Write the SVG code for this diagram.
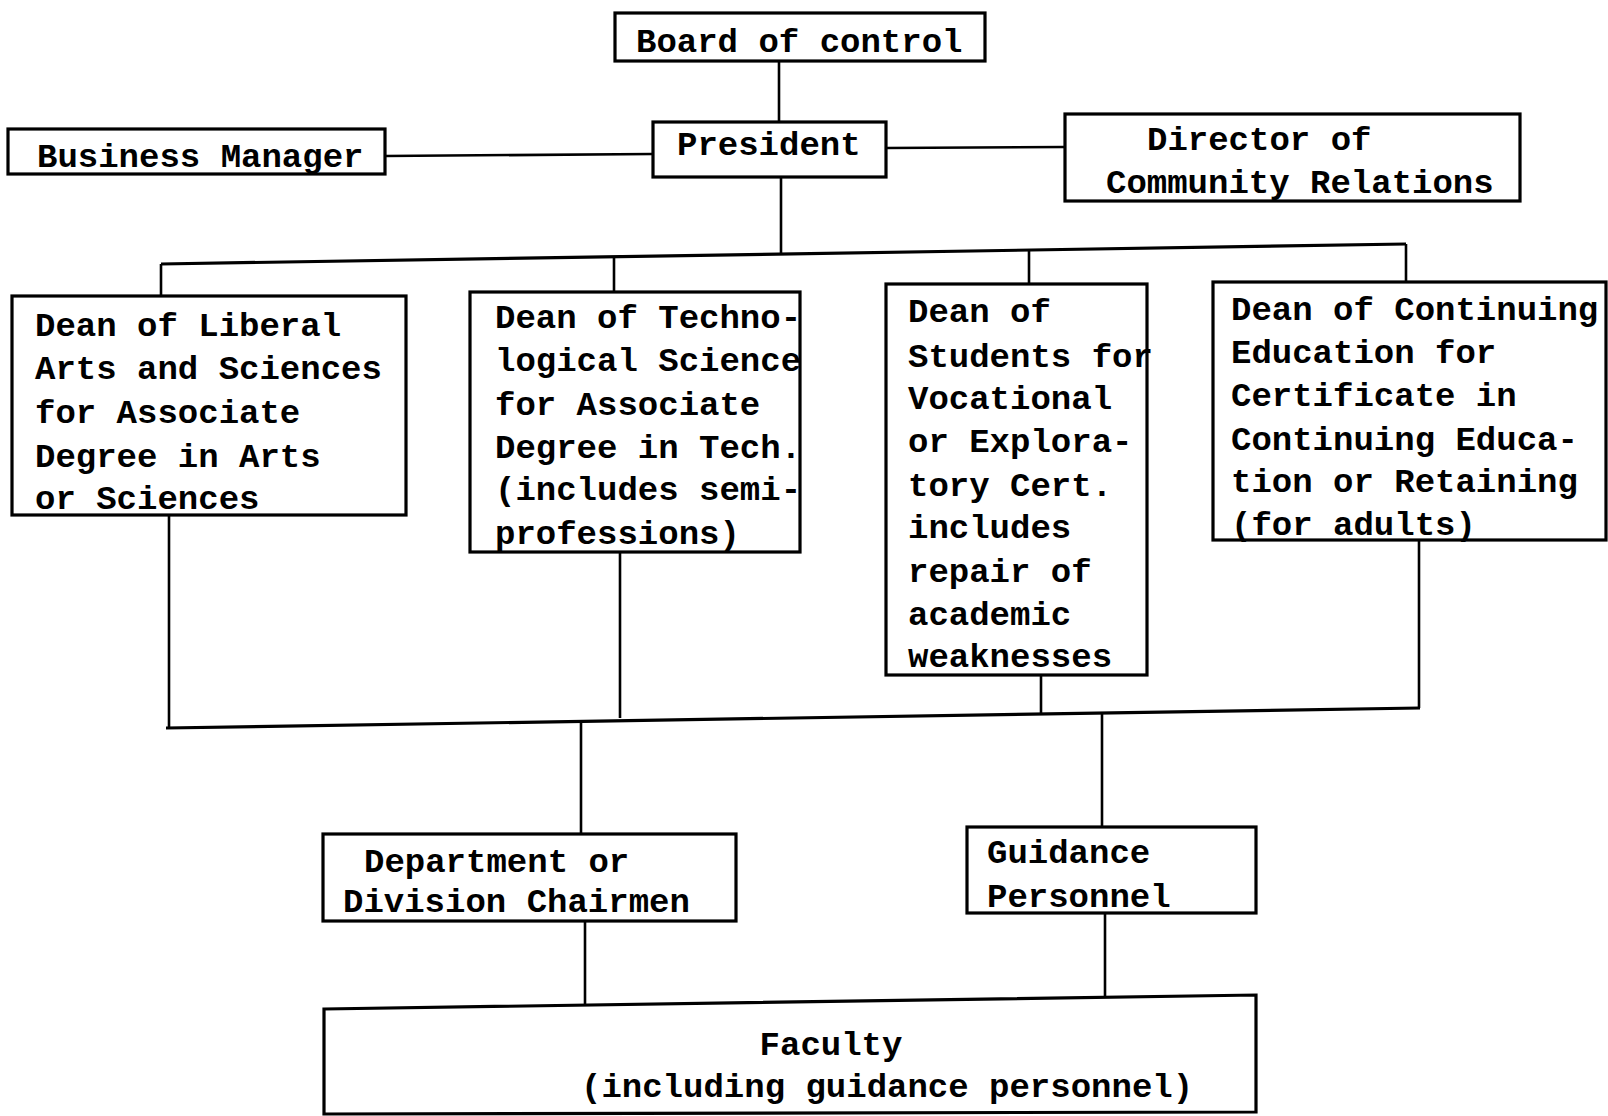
<svg xmlns="http://www.w3.org/2000/svg" width="1608" height="1116" viewBox="0 0 1608 1116">
<style>
.box{fill:#fff;stroke:#000;stroke-width:3.2}
.t{font-family:"Liberation Mono","DejaVu Sans Mono",monospace;font-size:34px;font-weight:bold;fill:#000}
.c{fill:none;stroke:#000;stroke-width:2.6}
</style>
<rect width="1608" height="1116" fill="#fff"/>
<g id="connectors">
<path class="c" d="M779 62V122"/>
<path class="c" d="M385 156L653 154"/>
<path class="c" d="M886 148L1065 147"/>
<path class="c" d="M781 177V253"/>
<path class="c" d="M161 264L1406 244" style="stroke-width:3.2"/>
<path class="c" d="M161 264V296"/>
<path class="c" d="M614 257V292"/>
<path class="c" d="M1029 250V284"/>
<path class="c" d="M1406 244V282"/>
<path class="c" d="M169 515V728"/>
<path class="c" d="M620 552V718"/>
<path class="c" d="M1041 675V713"/>
<path class="c" d="M1419 540V708"/>
<path class="c" d="M166 728L1420 708" style="stroke-width:3.2"/>
<path class="c" d="M581 722V834"/>
<path class="c" d="M1102 714V827"/>
<path class="c" d="M585 921V1007"/>
<path class="c" d="M1105 913V997"/>
</g>
<g id="board">
<rect class="box" x="615" y="13" width="370" height="48"/>
<text class="t" x="636" y="52">Board of control</text>
</g>
<g id="president">
<rect class="box" x="653" y="122" width="233" height="55"/>
<text class="t" x="677" y="155">President</text>
</g>
<g id="business">
<rect class="box" x="8" y="129" width="377" height="45"/>
<text class="t" x="37" y="167">Business Manager</text>
</g>
<g id="director">
<rect class="box" x="1065" y="114" width="455" height="87"/>
<text class="t" x="1147" y="150">Director of</text>
<text class="t" x="1106" y="193">Community Relations</text>
</g>
<g id="dean-liberal">
<rect class="box" x="12" y="296" width="394" height="219"/>
<text class="t" x="35" y="336">Dean of Liberal</text>
<text class="t" x="35" y="379">Arts and Sciences</text>
<text class="t" x="35" y="423">for Associate</text>
<text class="t" x="35" y="467">Degree in Arts</text>
<text class="t" x="35" y="509">or Sciences</text>
</g>
<g id="dean-tech">
<rect class="box" x="470" y="292" width="330" height="260"/>
<text class="t" x="495" y="328">Dean of Techno-</text>
<text class="t" x="495" y="371">logical Science</text>
<text class="t" x="495" y="415">for Associate</text>
<text class="t" x="495" y="458">Degree in Tech.</text>
<text class="t" x="495" y="500">(includes semi-</text>
<text class="t" x="495" y="544">professions)</text>
</g>
<g id="dean-students">
<rect class="box" x="886" y="284" width="261" height="391"/>
<text class="t" x="908" y="322">Dean of</text>
<text class="t" x="908" y="367">Students for</text>
<text class="t" x="908" y="409">Vocational</text>
<text class="t" x="908" y="452">or Explora-</text>
<text class="t" x="908" y="496">tory Cert.</text>
<text class="t" x="908" y="538">includes</text>
<text class="t" x="908" y="582">repair of</text>
<text class="t" x="908" y="625">academic</text>
<text class="t" x="908" y="667">weaknesses</text>
</g>
<g id="dean-continuing">
<rect class="box" x="1213" y="282" width="393" height="258"/>
<text class="t" x="1231" y="320">Dean of Continuing</text>
<text class="t" x="1231" y="363">Education for</text>
<text class="t" x="1231" y="406">Certificate in</text>
<text class="t" x="1231" y="450">Continuing Educa-</text>
<text class="t" x="1231" y="492">tion or Retaining</text>
<text class="t" x="1231" y="535">(for adults)</text>
</g>
<g id="department">
<rect class="box" x="323" y="834" width="413" height="87"/>
<text class="t" x="364" y="872">Department or</text>
<text class="t" x="343" y="912">Division Chairmen</text>
</g>
<g id="guidance">
<rect class="box" x="967" y="827" width="289" height="86"/>
<text class="t" x="987" y="863">Guidance</text>
<text class="t" x="987" y="907">Personnel</text>
</g>
<g id="faculty">
<path class="box" d="M324 1009L1256 995V1112L324 1114Z"/>
<text class="t" x="831" y="1055" text-anchor="middle">Faculty</text>
<text class="t" x="581" y="1097">(including guidance personnel)</text>
</g>
</svg>
